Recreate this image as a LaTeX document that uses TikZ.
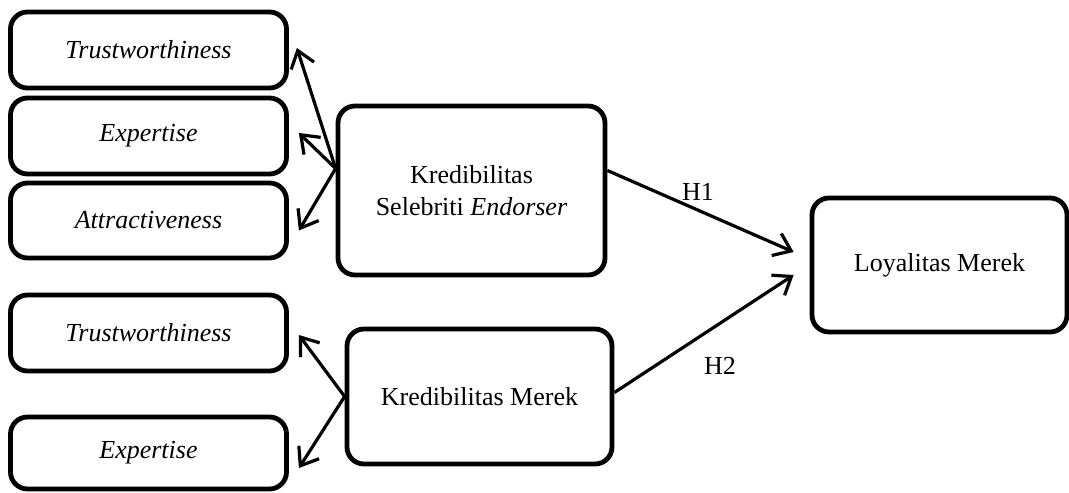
\documentclass[tikz,border=0pt]{standalone}
\usepackage{fontspec}
\setmainfont{Liberation Serif}
\usetikzlibrary{arrows.meta}
\begin{document}
\begin{tikzpicture}[x=0.5pt,y=-0.5pt,
  box/.style={draw=black, line width=2.4pt, rounded corners=8.5pt, inner sep=0pt,
    align=center, font=\fontsize{13}{16}\selectfont, fill=white},
  arr/.style={line width=1.6pt, -{Straight Barb[length=8pt,width=12pt,line width=1.6pt]}},
  lab/.style={font=\fontsize{13}{15}\selectfont, inner sep=0pt}]
\useasboundingbox[fill=white] (0,0) rectangle (1069,492);
\node[box, minimum width=138pt, minimum height=38pt] (t1) at (148.5,50) {\itshape Trustworthiness};
\node[box, minimum width=138pt, minimum height=38pt] (e1) at (148.5,136) {\itshape Expertise};
\node[box, minimum width=138pt, minimum height=37.5pt] (a1) at (148.5,220.5) {\itshape Attractiveness};
\node[box, minimum width=133.5pt, minimum height=84.5pt] (kse) at (471.5,190.5) {Kredibilitas\\Selebriti \textit{Endorser}};
\node[box, minimum width=138pt, minimum height=38pt] (t2) at (148.5,333) {\itshape Trustworthiness};
\node[box, minimum width=138pt, minimum height=36pt] (e2) at (148.5,453) {\itshape Expertise};
\node[box, minimum width=132.5pt, minimum height=67.5pt] (km) at (479.5,396.5) {Kredibilitas Merek};
\node[box, minimum width=127.5pt, minimum height=67pt] (lm) at (939.5,265) {Loyalitas Merek};
\coordinate (o1) at ([yshift=11pt]kse.west);
\coordinate (o2) at (km.west);
\draw[arr] (o1) -- ([xshift=4pt,yshift=1pt]t1.east);
\draw[arr] (o1) -- ([xshift=5pt,yshift=1.5pt]e1.east);
\draw[arr] (o1) -- ([xshift=5pt,yshift=-5pt]a1.east);
\draw[arr] (o2) -- ([xshift=5pt,yshift=-1pt]t2.east);
\draw[arr] (o2) -- ([xshift=5pt,yshift=-7.5pt]e2.east);
\coordinate (h1s) at ([yshift=10pt]kse.east);
\coordinate (h2s) at ([yshift=2pt]km.east);
\coordinate (h1e) at ([xshift=-8pt,yshift=6.5pt]lm.west);
\coordinate (h2e) at ([xshift=-8pt,yshift=-5pt]lm.west);
\draw[arr] (h1s) -- (h1e);
\draw[arr] (h2s) -- (h2e);
\node[lab] (l1) at (698,192) {H1};
\node[lab] (l2) at (720,366) {H2};
\end{tikzpicture}
\end{document}
